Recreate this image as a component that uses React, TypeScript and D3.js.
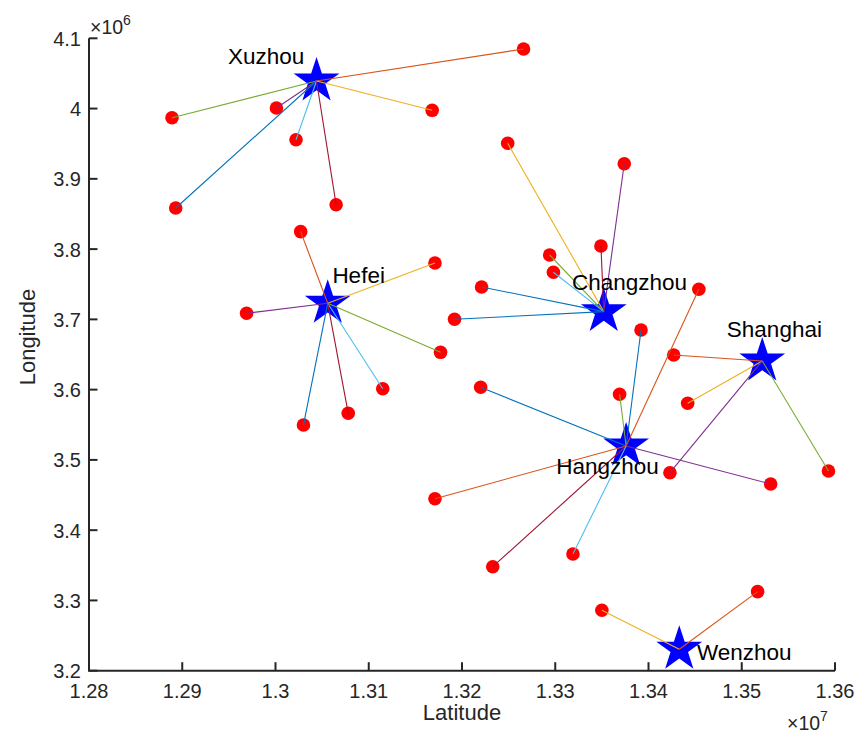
import React from "react";
import * as d3 from "d3";

// Axis ticks (x in units of 1e7, y in units of 1e6)
const xTicks = [1.28, 1.29, 1.3, 1.31, 1.32, 1.33, 1.34, 1.35, 1.36];
const yTicks = [3.2, 3.3, 3.4, 3.5, 3.6, 3.7, 3.8, 3.9, 4.0, 4.1];

// Centres (stars)
const cityNames = ["Xuzhou", "Hefei", "Changzhou", "Shanghai", "Hangzhou", "Wenzhou"];
const cityLat = [1.3044, 1.3056, 1.3352, 1.3522, 1.3376, 1.3433];
const cityLon = [4.0392, 3.7229, 3.711, 3.6408, 3.5198, 3.2305];
// Label anchors (text start, baseline) in data units
const labelLat = [1.2949, 1.3061, 1.3318, 1.3484, 1.3301, 1.3452];
const labelLon = [4.0634, 3.7518, 3.7418, 3.6753, 3.48, 3.2153];

// Demand points
const pointLat = [
  1.3266, 1.2889, 1.3001, 1.2893, 1.3022, 1.3065, 1.3168,
  1.3027, 1.3171, 1.2969, 1.3177, 1.3115, 1.3078, 1.303,
  1.3249, 1.3374, 1.3349, 1.3294, 1.3298, 1.3221, 1.3192,
  1.3427, 1.3442, 1.3423, 1.3593,
  1.3392, 1.322, 1.3369, 1.3454, 1.3171, 1.3531, 1.3233, 1.3319,
  1.335, 1.3517,
];
const pointLon = [
  4.0848, 3.987, 4.0008, 3.8585, 3.9557, 3.8632, 3.9975,
  3.8248, 3.7802, 3.7087, 3.6531, 3.6013, 3.5663, 3.5497,
  3.9506, 3.9215, 3.8044, 3.7916, 3.767, 3.7461, 3.7001,
  3.6493, 3.5806, 3.4818, 3.4842,
  3.6849, 3.6033, 3.5934, 3.7428, 3.4448, 3.4657, 3.348, 3.3661,
  3.286, 3.3125,
];
const pointCity = [
  0, 0, 0, 0, 0, 0, 0,
  1, 1, 1, 1, 1, 1, 1,
  2, 2, 2, 2, 2, 2, 2,
  3, 3, 3, 3,
  4, 4, 4, 4, 4, 4, 4, 4,
  5, 5,
];
// index into the line colour order
const pointColor = [
  1, 4, 3, 0, 5, 6, 2,
  1, 2, 3, 4, 5, 6, 0,
  2, 3, 6, 4, 5, 0, 0,
  1, 2, 3, 4,
  0, 0, 4, 1, 1, 3, 6, 5,
  2, 1,
];
const lineColors = ["#0072BD", "#D95319", "#EDB120", "#7E2F8E", "#77AC30", "#4DBEEE", "#A2142F"];

const W = 859;
const H = 735;
const FONT = "'Liberation Sans', Arial, Helvetica, sans-serif";
const AX = "#262626";

export default function App() {
  const x = d3.scaleLinear().domain([1.28, 1.36]).range([89, 835]);
  const y = d3.scaleLinear().domain([3.2, 4.1]).range([670.7, 38.3]);
  const star = d3.symbol().type(d3.symbolStar).size(650)()!;
  const fmt = (v: number) => String(+v.toFixed(2));
  const x0 = x.range()[0];
  const x1 = x.range()[1];
  const yB = y.range()[0];
  const yT = y.range()[1];

  return (
    <div style={{ position: "absolute", left: 0, top: 0 }}>
      <svg width={W} height={H} style={{ display: "block", background: "#fff" }}>
        <rect width={W} height={H} fill="#fff" />
        {/* stars */}
        {cityNames.map((n, i) => (
          <path key={"s" + n} d={star} transform={`translate(${x(cityLat[i])},${y(cityLon[i])})`} fill="#0000FF" />
        ))}
        {/* dots */}
        {pointLat.map((v, i) => (
          <circle key={"p" + i} cx={x(v)} cy={y(pointLon[i])} r={6.8} fill="#FF0000" />
        ))}
        {/* links */}
        {pointLat.map((v, i) => (
          <line
            key={"l" + i}
            x1={x(cityLat[pointCity[i]])}
            y1={y(cityLon[pointCity[i]])}
            x2={x(v)}
            y2={y(pointLon[i])}
            stroke={lineColors[pointColor[i]]}
            strokeWidth={1.1}
          />
        ))}
        {/* axes */}
        <g fontFamily={FONT} fill={AX}>
          <path d={`M${x0},${yT} V${yB} H${x1}`} fill="none" stroke={AX} strokeWidth={2} />
          {xTicks.map((t) => (
            <g key={"xt" + t}>
              <line x1={x(t)} x2={x(t)} y1={yB} y2={yB - 8.5} stroke={AX} strokeWidth={2} />
              <text x={x(t)} y={698} textAnchor="middle" fontSize={20}>
                {fmt(t)}
              </text>
            </g>
          ))}
          {yTicks.map((t) => (
            <g key={"yt" + t}>
              <line x1={x0} x2={x0 + 8.5} y1={y(t)} y2={y(t)} stroke={AX} strokeWidth={2} />
              <text x={81} y={y(t) + 7.5} textAnchor="end" fontSize={20}>
                {fmt(t)}
              </text>
            </g>
          ))}
          <text x={(x0 + x1) / 2} y={720} textAnchor="middle" fontSize={22}>
            Latitude
          </text>
          <text transform={`translate(35,337) rotate(-90)`} textAnchor="middle" fontSize={22}>
            Longitude
          </text>
          <text x={90} y={33.5} fontSize={19.5}>
            ×10<tspan dy={-9} fontSize={14}>6</tspan>
          </text>
          <text x={787} y={730} fontSize={19.5}>
            ×10<tspan dy={-9} fontSize={14}>7</tspan>
          </text>
        </g>
        {/* city labels */}
        {cityNames.map((n, i) => (
          <text key={"t" + n} x={x(labelLat[i])} y={y(labelLon[i])} fontFamily={FONT} fontSize={22.5} fill="#000">
            {n}
          </text>
        ))}
      </svg>
    </div>
  );
}
